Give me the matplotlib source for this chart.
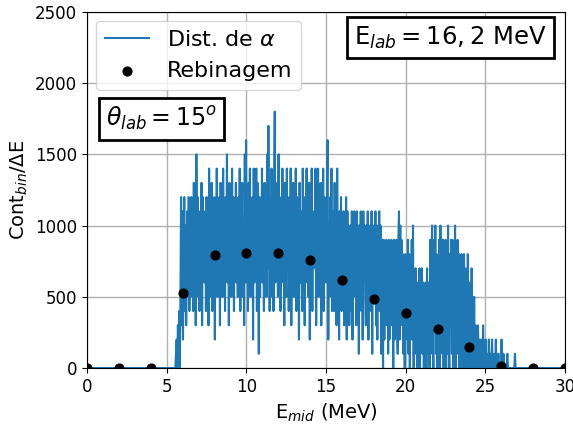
import numpy as np
import matplotlib
matplotlib.use('Agg')
from matplotlib import pyplot as plt

# espectro de alfa: contagens/dE em unidades de 100, um caractere por bin de 0.04 MeV a partir de 5.5 MeV
e_inicio = 5.5
largura_bin = 0.04
espectro = (
    "0012031405c3b27c4a39b5c48"   # 5.5 - 6.5
    "5c7a4d6b3f8c5a4b7d3c9a6b4"   # 6.5 - 7.5
    "c6a3e7b5d4a8c2b6e5a7c3d9b"   # 7.5 - 8.5
    "5e8a4c7f6b3d9a5e7c4b8d6a5"   # 8.5 - 9.5
    "c7e4b9d5a3f6g8b4d7e5a9c2e"   # 9.5 - 10.5
    "6b8e4d71c5a9e6b4d8c5f7ha4"   # 10.5 - 11.5
    "c5e8b4di6a9d5f7c4b8e6a3d7"   # 11.5 - 12.5
    "5e9b4c6e3a8d5b7e4c9a2d6b8"   # 12.5 - 13.5
    "4e7c3b9e6a5d2c8e4b7a9e3c6"   # 13.5 - 14.5
    "e5b8d3a7e4c9b6dg2a5c8e4b7"   # 14.5 - 15.5
    "4d6c3e5a2b8c4a7b3a6c2b5a3"   # 15.5 - 16.5
    "9a4b2a7b5a3b6a1a8b4a2b7a5"   # 16.5 - 17.5
    "3a6b2a8a4b1a5a7b3a2a6b4a1"   # 17.5 - 18.5
    "9509284938192849370928493"   # 18.5 - 19.5
    "19b2a4938170847291807392a"   # 19.5 - 20.5
    "0617260517063716052607162"   # 20.5 - 21.5
    "0918a2093a1807290a3819082"   # 21.5 - 22.5
    "9071a2083919072a081928071"   # 22.5 - 23.5
    "8061807150826051703150302"   # 23.5 - 24.5
    "0301200203010200102001020"   # 24.5 - 25.5
    "0100200010000200100000100"   # 25.5 - 26.5
    "0000000001000000000000000"   # 26.5 - 27.5
)

# rebinagem
e_rebin = [0, 2, 4, 6, 8, 10, 12, 14, 16, 18, 20, 22, 24, 26, 28, 30]
cont_rebin = [0, 0, 0, 527, 790, 805, 810, 755, 620, 485, 385, 275, 150, 15, 0, 0]

cont = np.array([int(c, 36) * 100 for c in espectro])
e = e_inicio + largura_bin * np.arange(len(cont))
e = np.concatenate([[0.2], e, [30]])
cont = np.concatenate([[0], cont, [0]])

fig = plt.figure(figsize=(5.73, 4.24), dpi=100)
ax = fig.add_axes([0.152, 0.132, 0.834, 0.840])

ax.plot(e, cont, color='#1f77b4', lw=1.5, label=r'Dist. de $\alpha$', zorder=2)
ax.scatter(e_rebin, cont_rebin, color='black', s=40, label='Rebinagem', zorder=3)

ax.set_xlim(0, 30)
ax.set_ylim(0, 2500)
ax.set_xticks(range(0, 31, 5))
ax.set_yticks(range(0, 2501, 500))
ax.tick_params(labelsize=12)
ax.grid(True, color='#b0b0b0', lw=1)
ax.set_axisbelow(True)

ax.set_xlabel(r'E$_{mid}$ (MeV)', fontsize=14)
ax.set_ylabel(r'Cont$_{bin}$/$\Delta$E', fontsize=14)

ax.legend(loc='upper left', fontsize=16, borderaxespad=0.4)

caixa = dict(facecolor='white', edgecolor='black', linewidth=2, pad=5)
ax.text(0.04, 0.70, r'$\theta_{lab}=15^o$', transform=ax.transAxes,
        fontsize=17, va='center', bbox=caixa, zorder=5)
ax.text(0.962, 0.928, r'E$_{lab}=16,2$ MeV', transform=ax.transAxes,
        fontsize=17.5, ha='right', va='center', bbox=caixa, zorder=5)

plt.savefig('out.png', dpi=100)
